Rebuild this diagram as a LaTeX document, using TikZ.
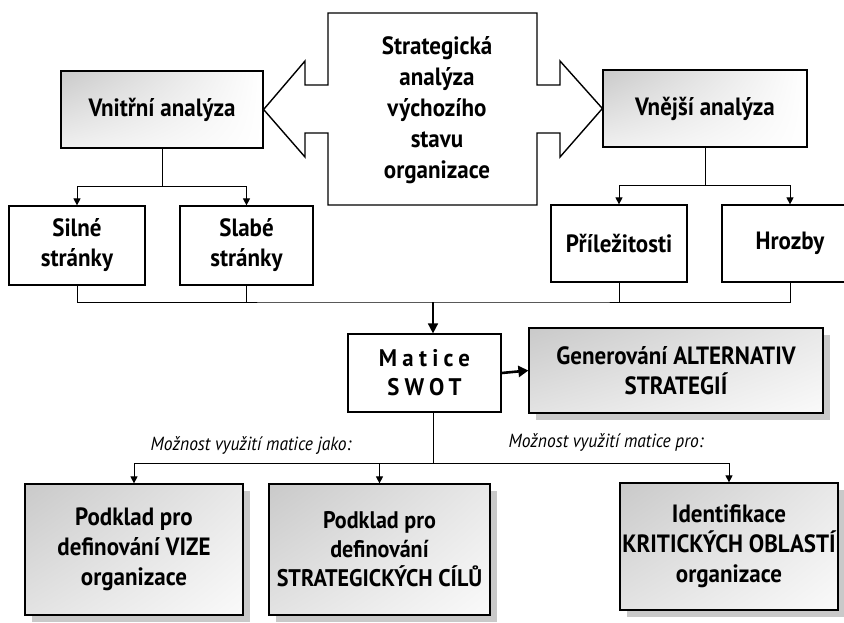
\documentclass[tikz,border=0pt]{standalone}
\usepackage{fontspec}
\setmainfont{PT Sans}[FakeStretch=0.92]
\newfontfamily\spacedfont{PT Sans}[LetterSpace=22,FakeStretch=0.95]
\usetikzlibrary{arrows.meta,shadows,shadings}
\begin{document}
\begin{tikzpicture}[x=1pt,y=-1pt,
  box/.style={draw,line width=1.2pt,align=center,inner sep=0pt,
    font=\bfseries\fontsize{25}{30}\selectfont},
  grey/.style={box,shade,upper left=gray!42,upper right=white,
    lower left=gray!12,lower right=white},
  shadowed/.style={box,shade,upper left=gray!42,upper right=gray!18,
    lower left=gray!22,lower right=gray!4,drop shadow={shadow xshift=7pt,
    shadow yshift=-7pt,fill=gray!42,opacity=1}},
  link/.style={line width=0.9pt},
  tip/.style={link,-{Triangle[width=7pt,length=7pt]}},
  usage/.style={font=\itshape\fontsize{19}{21}\selectfont}]
\useasboundingbox (0,0) rectangle (844,622);
\clip (0,0) rectangle (844,622);
\node[grey,minimum width=202,minimum height=77] (vnitrni) at (162,109.5) {Vnitřní analýza};
\node[grey,minimum width=204,minimum height=77] (vnejsi) at (705,108.5) {Vnější analýza};
\draw[line width=1.4pt] (vnitrni.east) -- (305,61) -- (305,85) -- (328,85) -- (328,13)
  -- (537,13) -- (537,85) -- (560,85) -- (560,61) -- (vnejsi.west) -- (560,157)
  -- (560,133) -- (537,133) -- (537,205) -- (328,205) -- (328,133) -- (305,133)
  -- (305,157) -- cycle;
\node[font=\bfseries\fontsize{25}{31}\selectfont,align=center] (strat) at (437,110)
  {Strategická\\analýza\\výchozího\\stavu\\organizace};
\node[box,minimum width=136,minimum height=79] (silne) at (77,245.5) {Silné\\stránky};
\node[box,minimum width=133,minimum height=79] (slabe) at (246.5,245.5) {Slabé\\stránky};
\node[box,minimum width=136,minimum height=77] (prilez) at (619,243.5) {Příležitosti};
\node[box,minimum width=136,minimum height=77] (hrozby) at (790,243.5) {Hrozby};
\node[box,minimum width=153,minimum height=78,font=\spacedfont\bfseries\fontsize{24}{29}\selectfont]
  (matice) at (424.5,373) {Matice\\SWOT};
\node[shadowed,minimum width=294,minimum height=85] (gen) at (676,370.5)
  {Generování ALTERNATIV\\STRATEGIÍ};
\node[shadowed,minimum width=218,minimum height=131] (vize) at (134,549.5)
  {Podklad pro\\definování VIZE\\organizace};
\node[shadowed,minimum width=221,minimum height=131,font=\bfseries\fontsize{24}{29}\selectfont]
  (cile) at (379.5,549.5) {Podklad pro\\definování\\STRATEGICKÝCH CÍLŮ};
\node[shadowed,minimum width=218,minimum height=127] (kriticke) at (729,546.5)
  {Identifikace\\KRITICKÝCH OBLASTÍ\\organizace};
\node[usage] (jako) at (251,446) {Možnost využití matice jako:};
\node[usage] (pro) at (606,442) {Možnost využití matice pro:};
\coordinate (sb) at (433,302);
\coordinate (mb) at (433,463);
\draw[tip] (vnitrni.south) -- ++(0,38) -| (silne.north);
\draw[tip] (vnitrni.south) -- ++(0,38) -| (slabe.north);
\draw[tip] (vnejsi.south) -- ++(0,38) -| (prilez.north);
\draw[tip] (vnejsi.south) -- ++(0,38) -| (hrozby.north);
\draw[link] (silne.south) |- (sb) -| (hrozby.south);
\draw[link] (slabe.south) -- (slabe.south |- sb);
\draw[link] (prilez.south) -- (prilez.south |- sb);
\draw[line width=1.6pt,-{Triangle[width=10pt,length=10pt]}] (sb) -- (sb |- matice.north);
\draw[line width=2.6pt,-{Triangle[width=11pt,length=10pt]}] (matice.east) -- (gen.west);
\draw[link] (mb |- matice.south) -- (mb);
\draw[tip] (mb) -| (vize.north);
\draw[tip] (mb) -| (kriticke.north);
\draw[tip] (cile.north |- mb) -- (cile.north);
\end{tikzpicture}
\end{document}
